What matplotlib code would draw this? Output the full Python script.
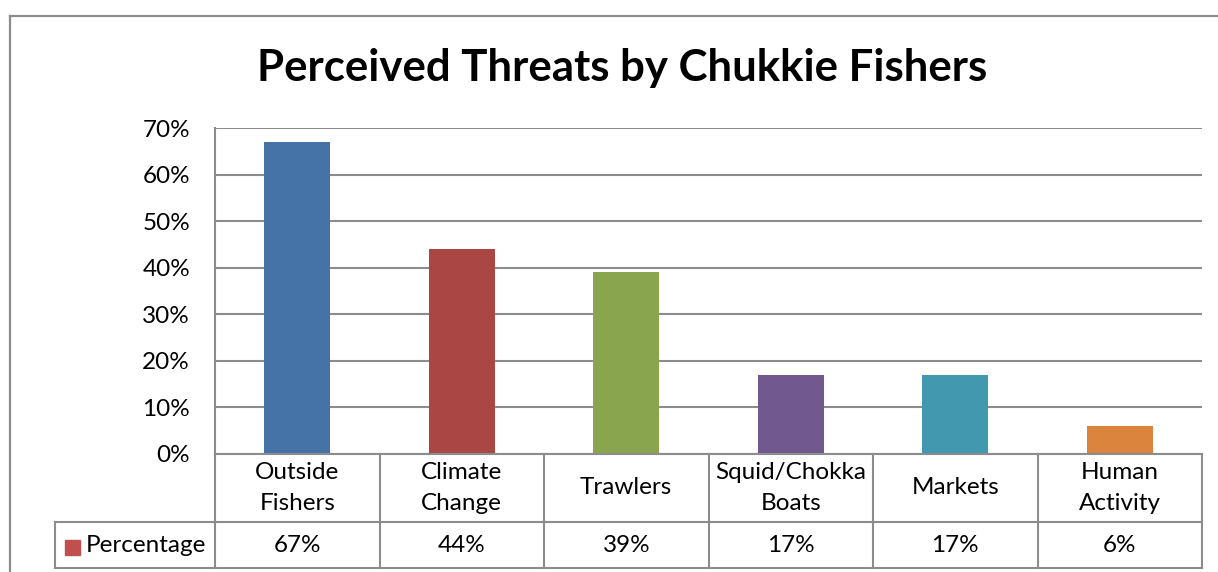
import numpy as np
import matplotlib.pyplot as plt
from matplotlib.patches import Rectangle
from matplotlib.lines import Line2D

plt.rcParams['font.family'] = ['Lato', 'DejaVu Sans']

categories = ['Outside\nFishers', 'Climate\nChange', 'Trawlers', 'Squid/Chokka\nBoats', 'Markets', 'Human\nActivity']
values = [67, 44, 39, 17, 17, 6]
value_labels = ['67%', '44%', '39%', '17%', '17%', '6%']
series_name = 'Percentage'
bar_colors = ['#4572A7', '#AA4643', '#89A54E', '#71588F', '#4198AF', '#DB843D']
key_color = '#C0504D'
line_gray = '#8C8C8C'

W, H = 1218, 572
fig = plt.figure(figsize=(W / 100, H / 100), dpi=100)

def fx(px):
    return px / W

def fy(py):
    return 1 - py / H

# outer chart border (clipped at the right and bottom)
fig.add_artist(Line2D([fx(10), fx(10)], [fy(16), 0], color=line_gray, lw=1.6))
fig.add_artist(Line2D([fx(10), 1], [fy(16), fy(16)], color=line_gray, lw=1.6))

fig.text(fx(622), fy(68), 'Perceived Threats by Chukkie Fishers', ha='center', va='center',
         fontsize=31.5, fontweight='bold')

fs = 17.5
left, right, top, bottom = 215, 1202, 128, 454
ax = fig.add_axes([fx(left), fy(bottom), fx(right - left), (bottom - top) / H])
x = np.arange(len(values))
ax.bar(x, values, width=0.4, color=bar_colors, zorder=3)
ax.set_xlim(-0.5, len(values) - 0.5)
ax.set_ylim(0, 70)
ax.set_yticks(range(0, 71, 10))
ax.set_yticklabels([f'{t}%' for t in range(0, 71, 10)], fontsize=fs)
ax.tick_params(axis='y', length=0, pad=18)
ax.set_xticks([])
ax.grid(axis='y', color=line_gray, lw=1.5, zorder=0)
for s in ['top', 'right', 'bottom']:
    ax.spines[s].set_visible(False)
ax.spines['left'].set_color(line_gray)
ax.spines['left'].set_linewidth(1.5)

# data table under the bars
row1_bottom, row2_bottom, table_left = 522, 568, 55
col_edges = np.linspace(left, right, len(values) + 1)
lw = 1.5
def hline(y, x0, x1):
    fig.add_artist(Line2D([fx(x0), fx(x1)], [fy(y), fy(y)], color=line_gray, lw=lw))
def vline(xp, y0, y1):
    fig.add_artist(Line2D([fx(xp), fx(xp)], [fy(y0), fy(y1)], color=line_gray, lw=lw))

hline(bottom, left, right)
hline(row1_bottom, table_left, right)
hline(row2_bottom, table_left, right)
for xe in col_edges:
    vline(xe, bottom, row2_bottom)
vline(table_left, row1_bottom, row2_bottom)

for i, (cat, lab) in enumerate(zip(categories, value_labels)):
    cx = (col_edges[i] + col_edges[i + 1]) / 2
    fig.text(fx(cx), fy((bottom + row1_bottom) / 2), cat, ha='center', va='center',
             fontsize=fs, linespacing=1.55)
    fig.text(fx(cx), fy((row1_bottom + row2_bottom) / 2), lab, ha='center', va='center', fontsize=fs)

fig.add_artist(Rectangle((fx(65), fy(555)), fx(15), 15 / H, color=key_color))
fig.text(fx(86), fy((row1_bottom + row2_bottom) / 2), series_name, ha='left', va='center', fontsize=fs)

fig.savefig('out.png', dpi=100)
